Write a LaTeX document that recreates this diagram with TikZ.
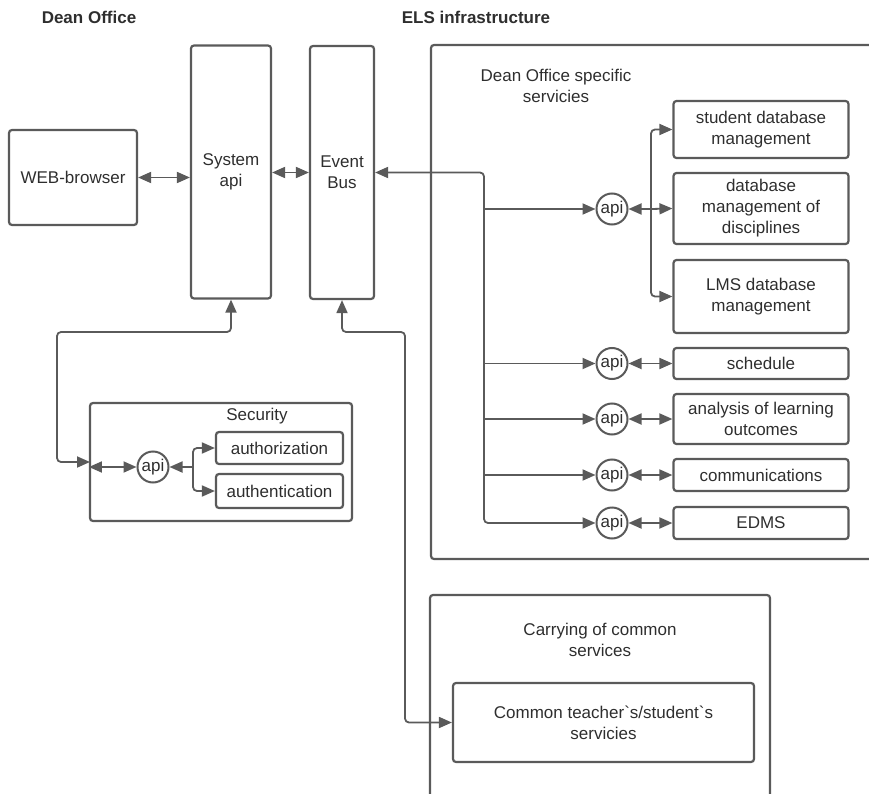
\documentclass[tikz,border=0pt]{standalone}
\usepackage{fontspec}
\setmainfont{Liberation Sans}
\usepackage{xcolor}
\usetikzlibrary{positioning,arrows.meta}
\definecolor{linegray}{HTML}{5A5A5A}
\definecolor{textgray}{HTML}{2E2E2E}

\begin{document}
\begin{tikzpicture}[x=1pt,y=-1pt,
    font=\fontsize{17}{21}\selectfont,
    box/.style={draw=linegray,line width=2.2pt,rounded corners=3pt,align=center,
      text=textgray,inner sep=0pt},
    apinode/.style={circle,draw=linegray,line width=2pt,minimum size=31pt,
      inner sep=0pt,text=textgray},
    lbl/.style={text=textgray,align=center},
    conn/.style={draw=linegray,line width=1.8pt,rounded corners=4pt,
      -{Triangle[length=13pt,width=11pt]}},
    biconn/.style={conn,{Triangle[length=13pt,width=11pt]}-{Triangle[length=13pt,width=11pt]}}]
      \useasboundingbox (0,0) rectangle (869,794);
      \clip (0,0) rectangle (869,794);
      % titles
      \node[lbl,font=\fontsize{17}{21}\selectfont\bfseries] (tdean) at (89,17) {Dean Office};
      \node[lbl,font=\fontsize{17}{21}\selectfont\bfseries] (tels) at (476,17) {ELS infrastructure};
      % dean office side
      \node[box,minimum width=128,minimum height=95] (web) at (73,177.5) {WEB-browser};
      \node[box,minimum width=80,minimum height=253] (sysapi) at (231,172) {System\\api};
      \node[box,minimum width=64,minimum height=253] (bus) at (342,172.5) {Event\\Bus};
      \draw[biconn] (web.east) -- (web.east -| sysapi.west);
      \draw[biconn] (sysapi.east |- bus.west) -- (bus.west);
      % security
      \node[box,minimum width=262,minimum height=118] (sec) at (221,462) {};
      \node[lbl] (tsec) at (257,416) {Security};
      \node[box,minimum width=127,minimum height=32] (authz) at (279.5,448) {authorization};
      \node[box,minimum width=127,minimum height=34] (authn) at (279.5,491) {authentication};
      \node[apinode] (apis) at (153,467) {api};
      \coordinate (split2) at (193,467);
      \draw[biconn] (apis.west -| sec.west) -- (apis.west);
      \draw[conn] (split2) -- (apis.east);
      \draw[conn] (split2) |- (authz.west);
      \draw[conn] (split2) |- (authn.west);
      \coordinate (bendA) at (57,332);
      \coordinate (secin) at (90,462);
      \draw[biconn] (sysapi.south) |- (bendA) |- (secin);
      % ELS infrastructure
      \draw[box] (431,45) rectangle (890,559);
      \node[lbl] (tspec) at (556,86) {Dean Office specific\\servicies};
      \node[box,minimum width=175,minimum height=57] (sdb) at (761,129.5) {student database\\management};
      \node[box,minimum width=175,minimum height=71] (dmd) at (761,208.5) {database\\management of\\disciplines};
      \node[box,minimum width=175,minimum height=73] (lms) at (761,296.5) {LMS database\\management};
      \node[box,minimum width=175,minimum height=31] (sched) at (761,363.5) {schedule};
      \node[box,minimum width=175,minimum height=50] (anal) at (761,419) {analysis of learning\\outcomes};
      \node[box,minimum width=175,minimum height=32] (comm) at (761,475) {communications};
      \node[box,minimum width=175,minimum height=32] (edms) at (761,523) {EDMS};
      \foreach \i/\y in {1/209,2/363.5,3/419,4/475,5/523}
        \node[apinode] (api\i) at (612,\y) {api};
      \coordinate (jtop) at (484,172.5);
      \coordinate (jbot) at (484,523);
      \draw[biconn] (bus.east) -- (jtop) -- (jbot) -- (api5.west);
      \foreach \i in {1,2,3,4}
        \draw[conn] (jtop |- api\i.west) -- (api\i.west);
      \foreach \i/\b in {2/sched,3/anal,4/comm,5/edms}
        \draw[biconn] (api\i.east) -- (api\i.east -| \b.west);
      \coordinate (split1) at (651,209);
      \draw[conn] (split1) -- (api1.east);
      \draw[conn] (split1) |- (sdb.west);
      \draw[conn] (split1) -- (dmd.west);
      \draw[conn] (split1) |- (lms.west);
      % common services
      \draw[box] (430,595) rectangle (770,830);
      \node[lbl] (tcarry) at (600,640) {Carrying of common\\services};
      \node[box,minimum width=301,minimum height=79] (common) at (603.5,722.5) {Common teacher\textasciigrave s/student\textasciigrave s\\servicies};
      \coordinate (bendB) at (405,332);
      \draw[biconn] (bus.south) |- (bendB) |- (common.west);
    \end{tikzpicture}
\end{document}
